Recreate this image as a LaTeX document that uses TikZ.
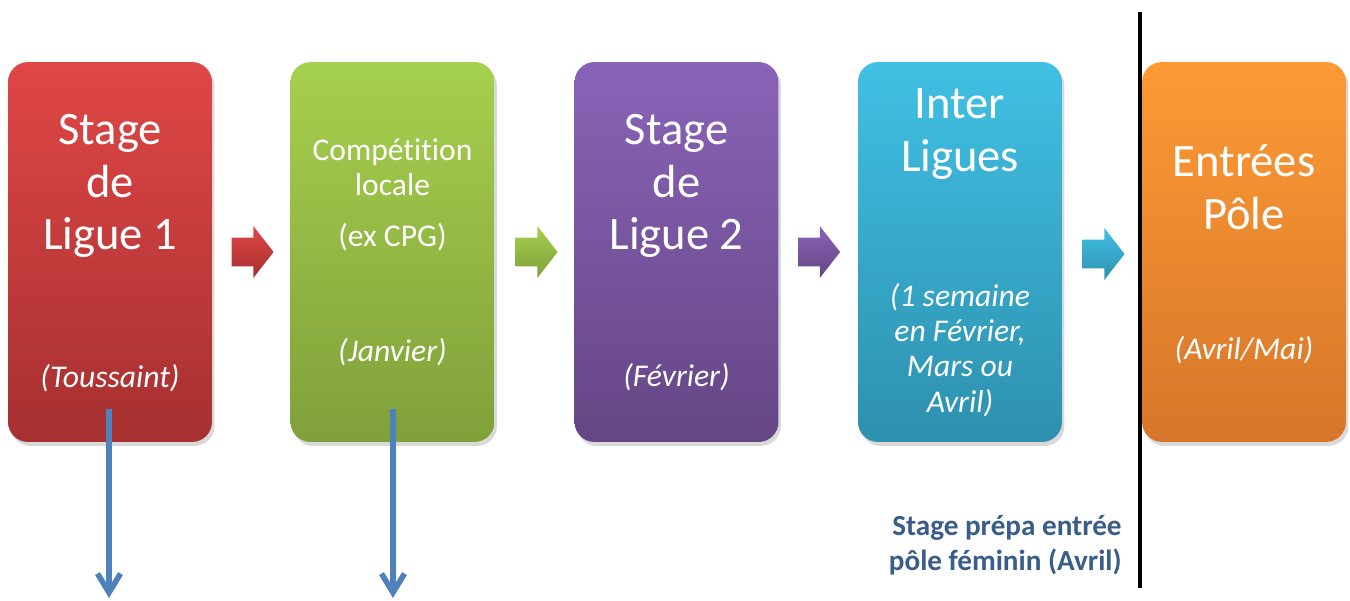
\documentclass[tikz,border=0pt]{standalone}
\usepackage{fontspec}
\setmainfont{Carlito}[Ligatures=NoCommon]
\usepackage{tikz}
\usetikzlibrary{shapes.arrows,arrows.meta,shadows}
\usepackage{xcolor}
\definecolor{redtop}{RGB}{224,70,70}
\definecolor{redbot}{RGB}{166,48,48}
\definecolor{greentop}{RGB}{166,208,78}
\definecolor{greenbot}{RGB}{128,160,58}
\definecolor{purpletop}{RGB}{138,99,184}
\definecolor{purplebot}{RGB}{100,70,132}
\definecolor{cyantop}{RGB}{64,192,228}
\definecolor{cyanbot}{RGB}{46,144,174}
\definecolor{orangetop}{RGB}{253,154,53}
\definecolor{orangebot}{RGB}{214,118,42}
\definecolor{arrowblue}{RGB}{79,129,189}
\definecolor{notetext}{RGB}{56,93,138}

\begin{document}
\begin{tikzpicture}[x=0.02cm, y=-0.02cm,
box/.style={rounded corners=0.4cm, minimum width=4.08cm, minimum height=7.6cm, inner sep=0, drop shadow={opacity=0.3, shadow xshift=0.05cm, shadow yshift=-0.08cm}},
big/.style={text=white, align=center, inner sep=0, font=\fontsize{26.5}{30}\selectfont},
small/.style={text=white, align=center, inner sep=0, font=\fontsize{18}{20}\selectfont},
date/.style={text=white, align=center, inner sep=0, font=\fontsize{18}{20}\selectfont\itshape},
chevron/.style={single arrow, single arrow head extend=0.23cm, single arrow tip angle=104, inner xsep=0, inner ysep=0.28cm, minimum height=0.84cm},
down/.style={-{Straight Barb[length=0.38cm, width=0.46cm]}, line width=3.2pt, draw=arrowblue}]
\useasboundingbox (0,0) rectangle (1350,600);
% the five boxes
\node[box, top color=redtop, bottom color=redbot] (b1) at (110,252) {};
\node[box, top color=greentop, bottom color=greenbot] (b2) at (392.5,252) {};
\node[box, top color=purpletop, bottom color=purplebot] (b3) at (676.5,252) {};
\node[box, top color=cyantop, bottom color=cyanbot] (b4) at (960,252) {};
\node[box, top color=orangetop, bottom color=orangebot] (b5) at (1244,252) {};
% texts
\node[big] (t1) at (110,186) {Stage\\de\\Ligue 1};
\node[date] (d1) at (110,378) {(Toussaint)};
\node[small] (t2) at (392.5,167) {Compétition\\locale};
\node[small] (e2) at (392.5,237) {(ex CPG)};
\node[date] (d2) at (392.5,352) {(Janvier)};
\node[big] (t3) at (676.5,186) {Stage\\de\\Ligue 2};
\node[date] (d3) at (676.5,377) {(Février)};
\node[big] (t4) at (960,134) {Inter\\Ligues};
\node[date] (d4) at (960,350) {(1 semaine\\en Février,\\Mars ou\\Avril)};
\node[big] (t5) at (1244,187) {Entrées\\Pôle};
\node[date] (d5) at (1244,350) {(Avril/Mai)};
% chevrons between boxes
\node[chevron, top color=redtop, bottom color=redbot] (a1) at (247,252) {};
\node[chevron, top color=greentop, bottom color=greenbot] (a2) at (531,252) {};
\node[chevron, top color=purpletop, bottom color=purplebot] (a3) at (813.5,252) {};
\node[chevron, top color=cyantop, bottom color=cyanbot] (a4) at (1098,254) {};
% separator and note
\coordinate (sepTop) at (1140,12);
\coordinate (sepBot) at (1140,588);
\draw[line width=2.3pt] (sepTop) -- (sepBot);
\node[align=right, anchor=east, inner sep=0, text=notetext, font=\fontsize{16.6}{20}\selectfont\bfseries] (note) at (1122,545) {Stage prépa entrée\\pôle féminin (Avril)};
% down arrows
\coordinate (s1) at (109,409);
\coordinate (e1) at (109,598);
\coordinate (s2) at (393,409);
\coordinate (e2) at (393,598);
\draw[down] (s1) -- (e1);
\draw[down] (s2) -- (e2);
\end{tikzpicture}
\end{document}
